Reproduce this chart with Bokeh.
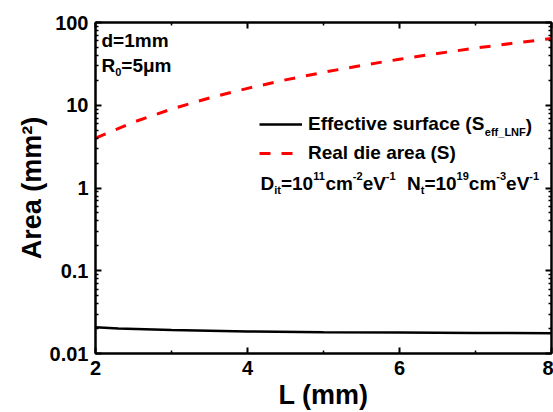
from bokeh.plotting import figure
from bokeh.models import (FixedTicker, LinearAxis, LogAxis, Label, Legend, LegendItem,
                          CustomJSTickFormatter, Range1d)
from bokeh.embed import file_html
from bokeh.resources import INLINE

# ---- data ----
L_die = [2, 2.5, 3, 3.5, 4, 4.5, 5, 5.5, 6, 6.5, 7, 7.5, 8]
S_die = [4, 6.25, 9, 12.25, 16, 20.25, 25, 30.25, 36, 42.25, 49, 56.25, 64]
L_eff = [2.0, 2.3, 3.0, 4.0, 5.0, 6.0, 7.0, 8.0]
S_eff = [0.0207, 0.0200, 0.0192, 0.0185, 0.0181, 0.0179, 0.0177, 0.0176]
x_ticks = [2, 4, 6, 8]
x_minor = [3, 5, 7]
y_ticks = [0.01, 0.1, 1, 10, 100]
y_tick_labels = ["0.01", "0.1", "1", "10", "100"]
y_minor = [m * 10.0 ** e for e in range(-2, 2) for m in range(2, 10)]

FONT = "Liberation Sans"

p = figure(width=553, height=412, output_backend="svg", toolbar_location=None,
           x_range=Range1d(2, 8), y_range=Range1d(0.01, 100), y_axis_type="log",
           min_border_left=95, min_border_top=22, min_border_right=2, min_border_bottom=54)
p.grid.visible = False
p.outline_line_color = "black"
p.outline_line_width = 2
p.background_fill_color = "white"
p.border_fill_color = "white"

xt = FixedTicker(ticks=x_ticks, minor_ticks=x_minor)
yt = FixedTicker(ticks=y_ticks, minor_ticks=y_minor)
yfmt = CustomJSTickFormatter(args=dict(tvals=y_ticks, tlabs=y_tick_labels), code="""
for (let i = 0; i < tvals.length; i++) { if (Math.abs(tvals[i] - tick) < 1e-9 * Math.max(1, tick)) return tlabs[i]; }
return '';
""")
blank = CustomJSTickFormatter(code="return '';")

def style(ax):
    ax.axis_line_width = 2
    ax.major_tick_in = 6
    ax.major_tick_out = 0
    ax.minor_tick_in = 3
    ax.minor_tick_out = 0
    ax.major_tick_line_width = 2
    ax.minor_tick_line_width = 1.5
    ax.major_label_text_font = FONT
    ax.major_label_text_font_style = "bold"
    ax.major_label_text_font_size = "20px"
    ax.major_label_text_color = "black"
    ax.axis_label_text_font = FONT
    ax.axis_label_text_font_style = "bold"
    ax.axis_label_text_font_size = "27px"
    ax.axis_label_text_color = "black"

xa = p.xaxis[0]
xa.ticker = xt
style(xa)
xa.major_label_standoff = 7
xa.axis_label = "L (mm)"
xa.axis_label_standoff = 2

ya = p.yaxis[0]
ya.ticker = yt
ya.formatter = yfmt
style(ya)
ya.major_label_standoff = 7
ya.axis_label = "Area (mm²)"
ya.axis_label_standoff = 0

top = LinearAxis(ticker=xt, formatter=blank, major_label_standoff=0)
style(top)
p.add_layout(top, "above")
right = LogAxis(ticker=yt, formatter=blank, major_label_standoff=0)
style(right)
p.add_layout(right, "right")

r_eff = p.line(L_eff, S_eff, line_color="black", line_width=2.5)
r_die = p.line(L_die, S_die, line_color="#ff0000", line_width=3, line_dash="11 11")

legend = Legend(items=[LegendItem(label="Effective surface (S", renderers=[r_eff]),
                       LegendItem(label="Real die area (S)", renderers=[r_die])],
                location=(164, 187), glyph_width=43, glyph_height=26,
                label_height=26, label_standoff=6,
                label_text_font=FONT, label_text_font_style="bold",
                label_text_font_size="19px", label_text_color="black",
                spacing=3, padding=0, margin=0,
                border_line_color=None, background_fill_alpha=0)
p.add_layout(legend, "center")

# ---- rich annotation text (Arial-metric widths) ----
W = {" ": 278, "(": 333, ")": 333, "-": 333, ".": 278, "=": 584, "_": 556,
     "A": 722, "D": 722, "E": 667, "F": 611, "L": 611, "N": 722, "R": 722, "S": 667, "V": 667,
     "a": 556, "c": 556, "d": 611, "e": 556, "f": 333, "i": 278, "l": 278, "m": 889,
     "r": 389, "s": 556, "t": 333, "u": 611, "v": 556, "μ": 611}

def tw(s, size):
    return sum(W.get(c, 556) for c in s) * size / 1000.0

FL, FB = 95, 358  # frame left / bottom in page pixels

def rich(x0, yb, parts, size=19, ssize=11):
    x = x0
    for txt, kind in parts:
        fs = size if kind == "n" else ssize
        base = yb if kind == "n" else (yb + 6 if kind == "sub" else yb - 8)
        if txt:
            p.add_layout(Label(x=x - FL, y=FB - base, x_units="screen", y_units="screen",
                               text=txt, text_font=FONT, text_font_style="bold",
                               text_font_size=f"{fs}px", text_color="black",
                               text_baseline="alphabetic", text_align="left"))
        x += tw(txt, fs)

rich(101, 45, [("d=1mm", "n")])
rich(101, 70, [("R", "n"), ("0", "sub"), ("=5μm", "n")])
# continuation of first legend label (subscript part)
rich(308 + tw("Effective surface (S", 19), 130, [("eff_LNF", "sub"), (")", "n")])
rich(260, 188, [("D", "n"), ("it", "sub"), ("=10", "n"), ("11", "sup"), ("cm", "n"),
                ("-2", "sup"), ("eV", "n"), ("-1", "sup")])
rich(406.5, 188, [("N", "n"), ("t", "sub"), ("=10", "n"), ("19", "sup"), ("cm", "n"),
                  ("-3", "sup"), ("eV", "n"), ("-1", "sup")])

open("out.html", "w").write(file_html(p, INLINE))
